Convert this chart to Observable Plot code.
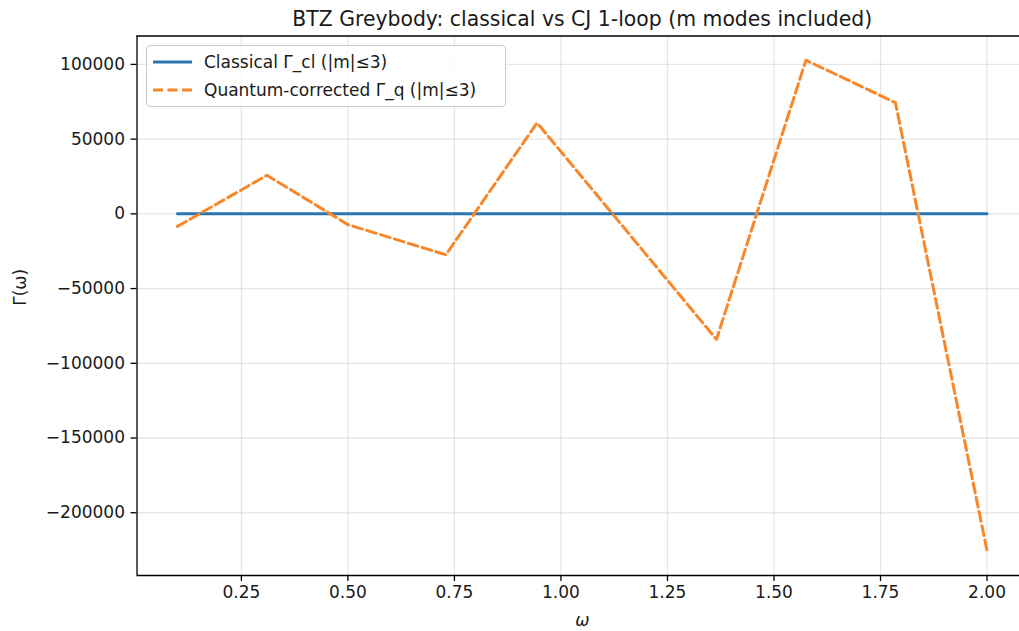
<!DOCTYPE html>
<html>
<head>
<meta charset="utf-8">
<script src="https://cdn.jsdelivr.net/npm/d3@7"></script>
<script src="https://cdn.jsdelivr.net/npm/@observablehq/plot@0.6"></script>
<style>
  html, body { margin: 0; padding: 0; background: #fff; overflow: hidden; }
  #wrap { position: relative; width: 1019px; height: 631px; overflow: hidden; font-family: "DejaVu Sans", sans-serif; }
  #legend {
    position: absolute; left: 146px; top: 45px; width: 358px; height: 60px;
    border: 1px solid #cccccc; border-radius: 4px; background: rgba(255,255,255,0.8);
    font-size: 17px; color: #1a1a1a;
  }
  .row { position: absolute; left: 0; height: 28px; display: flex; align-items: center; }
  .row svg { margin-left: 6px; margin-right: 12px; }
</style>
</head>
<body>
<div id="wrap"></div>
<script>
const titleText = "BTZ Greybody: classical vs CJ 1-loop (m modes included)";
const xLabel = "ω";
const yLabel = "Γ(ω)";
const seriesNames = ["Classical Γ_cl (|m|≤3)", "Quantum-corrected Γ_q (|m|≤3)"];
const seriesColors = ["#2a76b2", "#f8872a"];

const omega = [0.1, 0.31, 0.5, 0.73, 0.944, 1.365, 1.575, 1.785, 2.0];
const classical = [0, 0, 0, 0, 0, 0, 0, 0, 0];
const quantum = [-8400, 25800, -7200, -27400, 60900, -84000, 102800, 74400, -225400];

const xTicks = [0.25, 0.5, 0.75, 1.0, 1.25, 1.5, 1.75, 2.0];
const yTicks = [100000, 50000, 0, -50000, -100000, -150000, -200000];

const xDomain = [0.005, 2.095];
const yDomain = [-242000, 119000];

const clData = omega.map((w, i) => ({w, v: classical[i]}));
const qData = omega.map((w, i) => ({w, v: quantum[i]}));

const gridStyle = {stroke: "#b0b0b0", strokeOpacity: 0.3, strokeWidth: 1.3};
const dashes = "10,4.5";

const chart = Plot.plot({
  width: 1019,
  height: 631,
  marginTop: 35.5,
  marginBottom: 56,
  marginLeft: 136.5,
  marginRight: -8,
  style: {fontFamily: "DejaVu Sans, sans-serif", fontSize: "17px", overflow: "hidden", background: "#fff", color: "#1a1a1a"},
  x: {domain: xDomain},
  y: {domain: yDomain},
  marks: [
    Plot.gridX(xTicks, gridStyle),
    Plot.gridY(yTicks, gridStyle),
    Plot.line(clData, {x: "w", y: "v", stroke: seriesColors[0], strokeWidth: 3}),
    Plot.line(qData, {x: "w", y: "v", stroke: seriesColors[1], strokeWidth: 3, strokeDasharray: dashes}),
    Plot.ruleY([yDomain[0], yDomain[1]], {x1: xDomain[0], x2: xDomain[1], stroke: "#000", strokeWidth: 1.3}),
    Plot.ruleX([xDomain[0]], {stroke: "#000", strokeWidth: 1.3}),
    Plot.axisX(xTicks, {tickSize: 6, tickPadding: 4, tickFormat: d => d.toFixed(2), fontSize: 17, label: null, stroke: "#000", strokeWidth: 1.3}),
    Plot.axisY(yTicks, {tickSize: 6, tickPadding: 6, tickFormat: d3.format("d"), fontSize: 17, label: null, stroke: "#000", strokeWidth: 1.3}),
    Plot.text([xLabel], {frameAnchor: "bottom", dy: 50, fontSize: 17, fontStyle: "italic"}),
    Plot.text([yLabel], {frameAnchor: "left", dx: -116, rotate: -90, fontSize: 17}),
    Plot.text([titleText], {frameAnchor: "top", dy: -24, fontSize: 20.4})
  ]
});

const wrap = document.getElementById("wrap");
wrap.appendChild(chart);

const legend = document.createElement("div");
legend.id = "legend";
seriesNames.forEach((name, i) => {
  const row = document.createElement("div");
  row.className = "row";
  row.style.top = (i * 28 + 2) + "px";
  const dash = i === 1 ? ` stroke-dasharray="${dashes}"` : '';
  row.innerHTML = `<svg width="39" height="10"><line x1="0" y1="5" x2="39" y2="5" stroke="${seriesColors[i]}" stroke-width="3"${dash}/></svg><span>${name}</span>`;
  legend.appendChild(row);
});
wrap.appendChild(legend);
</script>
</body>
</html>
